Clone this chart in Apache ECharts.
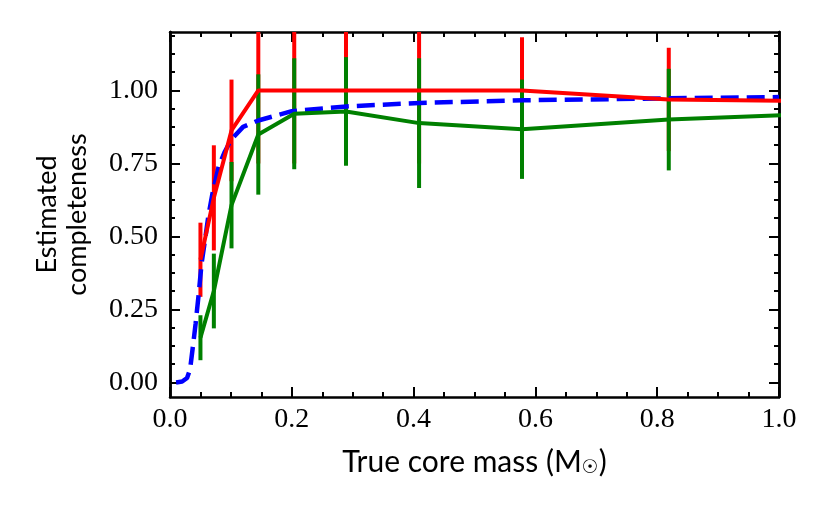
<!DOCTYPE html>
<html>
<head>
<meta charset="utf-8">
<script src="https://cdn.jsdelivr.net/npm/echarts@6/dist/echarts.min.js"></script>
<style>
  html, body { margin: 0; padding: 0; background: #fff; }
  #chart { width: 830px; height: 511px; }
</style>
</head>
<body>
<div id="chart"></div>
<script>
// 数据
const massBins = [0.05, 0.072, 0.101, 0.145, 0.204, 0.289, 0.409, 0.578, 0.819, 1.16];
const redVals = [0.42, 0.632, 0.863, 1.0, 1.0, 1.0, 1.0, 1.0, 0.969, 0.96];
const redErr = [0.127, 0.18, 0.174, 0.25, 0.25, 0.25, 0.25, 0.182, 0.177, 0.18];
const greenVals = [0.153, 0.313, 0.607, 0.849, 0.92, 0.928, 0.888, 0.867, 0.90, 0.928];
const greenErr = [0.077, 0.128, 0.148, 0.206, 0.19, 0.186, 0.222, 0.17, 0.174, 0.17];

// 模型曲线（蓝色虚线）
const modelMass = [0.01, 0.02, 0.028, 0.033, 0.038, 0.042, 0.047, 0.052, 0.057, 0.063, 0.07, 0.08, 0.09, 0.1, 0.12, 0.145, 0.2, 0.29, 0.41, 0.58, 0.82, 1.0];
const modelVals = [0.0, 0.003, 0.015, 0.045, 0.13, 0.2, 0.3, 0.41, 0.48, 0.57, 0.65, 0.74, 0.79, 0.83, 0.875, 0.897, 0.929, 0.945, 0.957, 0.966, 0.973, 0.977];

// 刻度
const yMajorTicks = [0, 0.25, 0.5, 0.75, 1.0];
const yMinorTicks = [0.0625, 0.125, 0.1875, 0.3125, 0.375, 0.4375, 0.5625, 0.625, 0.6875, 0.8125, 0.875, 0.9375, 1.0625, 1.125, 1.1875];

const SERIF = 'Liberation Serif';
const SANS = 'Lato';

const chart = echarts.init(document.getElementById('chart'), null, { renderer: 'canvas' });

function pairs(xs, ys) {
  return xs.map((x, i) => [x, ys[i]]);
}

function errData(vals, errs) {
  return massBins.map((x, i) => [x, vals[i] - errs[i], vals[i] + errs[i]]);
}

// 误差棒（custom series）
function errorBarSeries(vals, errs, color) {
  return {
    type: 'custom',
    data: errData(vals, errs),
    encode: { x: 0, y: [1, 2] },
    renderItem: function (params, api) {
      const x = api.value(0);
      const top = api.coord([x, api.value(2)]);
      const bottom = api.coord([x, api.value(1)]);
      const w = 4;
      const shape = echarts.graphic.clipRectByRect(
        { x: top[0] - w / 2, y: top[1], width: w, height: bottom[1] - top[1] },
        { x: params.coordSys.x, y: params.coordSys.y, width: params.coordSys.width, height: params.coordSys.height }
      );
      return shape && { type: 'rect', shape: shape, style: { fill: color } };
    },
    silent: true
  };
}

const axisLineStyle = { color: '#000', width: 2.5 };
const tickStyle = { color: '#000', width: 2 };

function yAxisBase(position, ticks, len, withLabel) {
  return {
    type: 'value',
    position: position,
    min: -0.05,
    max: 1.2,
    axisLine: { show: true, onZero: false, lineStyle: axisLineStyle },
    axisTick: { show: true, inside: true, length: len, customValues: ticks, lineStyle: tickStyle },
    axisLabel: withLabel ? {
      show: true,
      customValues: ticks,
      formatter: v => v.toFixed(2),
      fontFamily: SERIF,
      fontSize: 28,
      color: '#000',
      margin: 12
    } : { show: false },
    splitLine: { show: false }
  };
}

function xAxisBase(position, withLabel) {
  return {
    type: 'value',
    position: position,
    min: 0,
    max: 1,
    interval: 0.2,
    axisLine: { show: true, onZero: false, lineStyle: axisLineStyle },
    axisTick: { show: true, inside: true, length: 10, lineStyle: tickStyle },
    minorTick: { show: true, splitNumber: 4, length: 5, lineStyle: tickStyle },
    axisLabel: withLabel ? {
      show: true,
      formatter: v => v.toFixed(1),
      fontFamily: SERIF,
      fontSize: 28,
      color: '#000',
      margin: 9
    } : { show: false },
    splitLine: { show: false },
    minorSplitLine: { show: false }
  };
}

const yLeft = yAxisBase('left', yMajorTicks, 10, true);
yLeft.name = 'Estimated\ncompleteness';
yLeft.nameLocation = 'middle';
yLeft.nameRotate = 90;
yLeft.nameGap = 78;
yLeft.nameTextStyle = { fontFamily: SANS, fontSize: 27, color: '#000', lineHeight: 30 };

const xBottom = xAxisBase('bottom', true);
xBottom.name = 'True core mass (M{sub|☉})';
xBottom.nameLocation = 'middle';
xBottom.nameGap = 49;
xBottom.nameTextStyle = {
  fontFamily: SANS, fontSize: 30, color: '#000',
  rich: { sub: { fontFamily: 'DejaVu Sans', fontSize: 19, color: '#000', padding: [13, 0, 0, 0] } }
};

const option = {
  animation: false,
  backgroundColor: '#fff',
  grid: { left: 170, right: 51, top: 32, bottom: 114, containLabel: false },
  xAxis: [xBottom, xAxisBase('top', false)],
  yAxis: [
    yLeft,
    yAxisBase('left', yMinorTicks, 5, false),
    yAxisBase('right', yMajorTicks, 10, false),
    yAxisBase('right', yMinorTicks, 5, false)
  ],
  series: [
    {
      type: 'line',
      data: pairs(modelMass, modelVals),
      showSymbol: false,
      lineStyle: { color: '#0000ff', width: 4.5, type: [18, 8] },
      silent: true
    },
    errorBarSeries(redVals, redErr, '#ff0000'),
    errorBarSeries(greenVals, greenErr, '#008000'),
    {
      type: 'line',
      data: pairs(massBins, greenVals),
      showSymbol: false,
      lineStyle: { color: '#008000', width: 4 },
      silent: true
    },
    {
      type: 'line',
      data: pairs(massBins, redVals),
      showSymbol: false,
      lineStyle: { color: '#ff0000', width: 4 },
      silent: true
    }
  ]
};

chart.setOption(option);
</script>
</body>
</html>
